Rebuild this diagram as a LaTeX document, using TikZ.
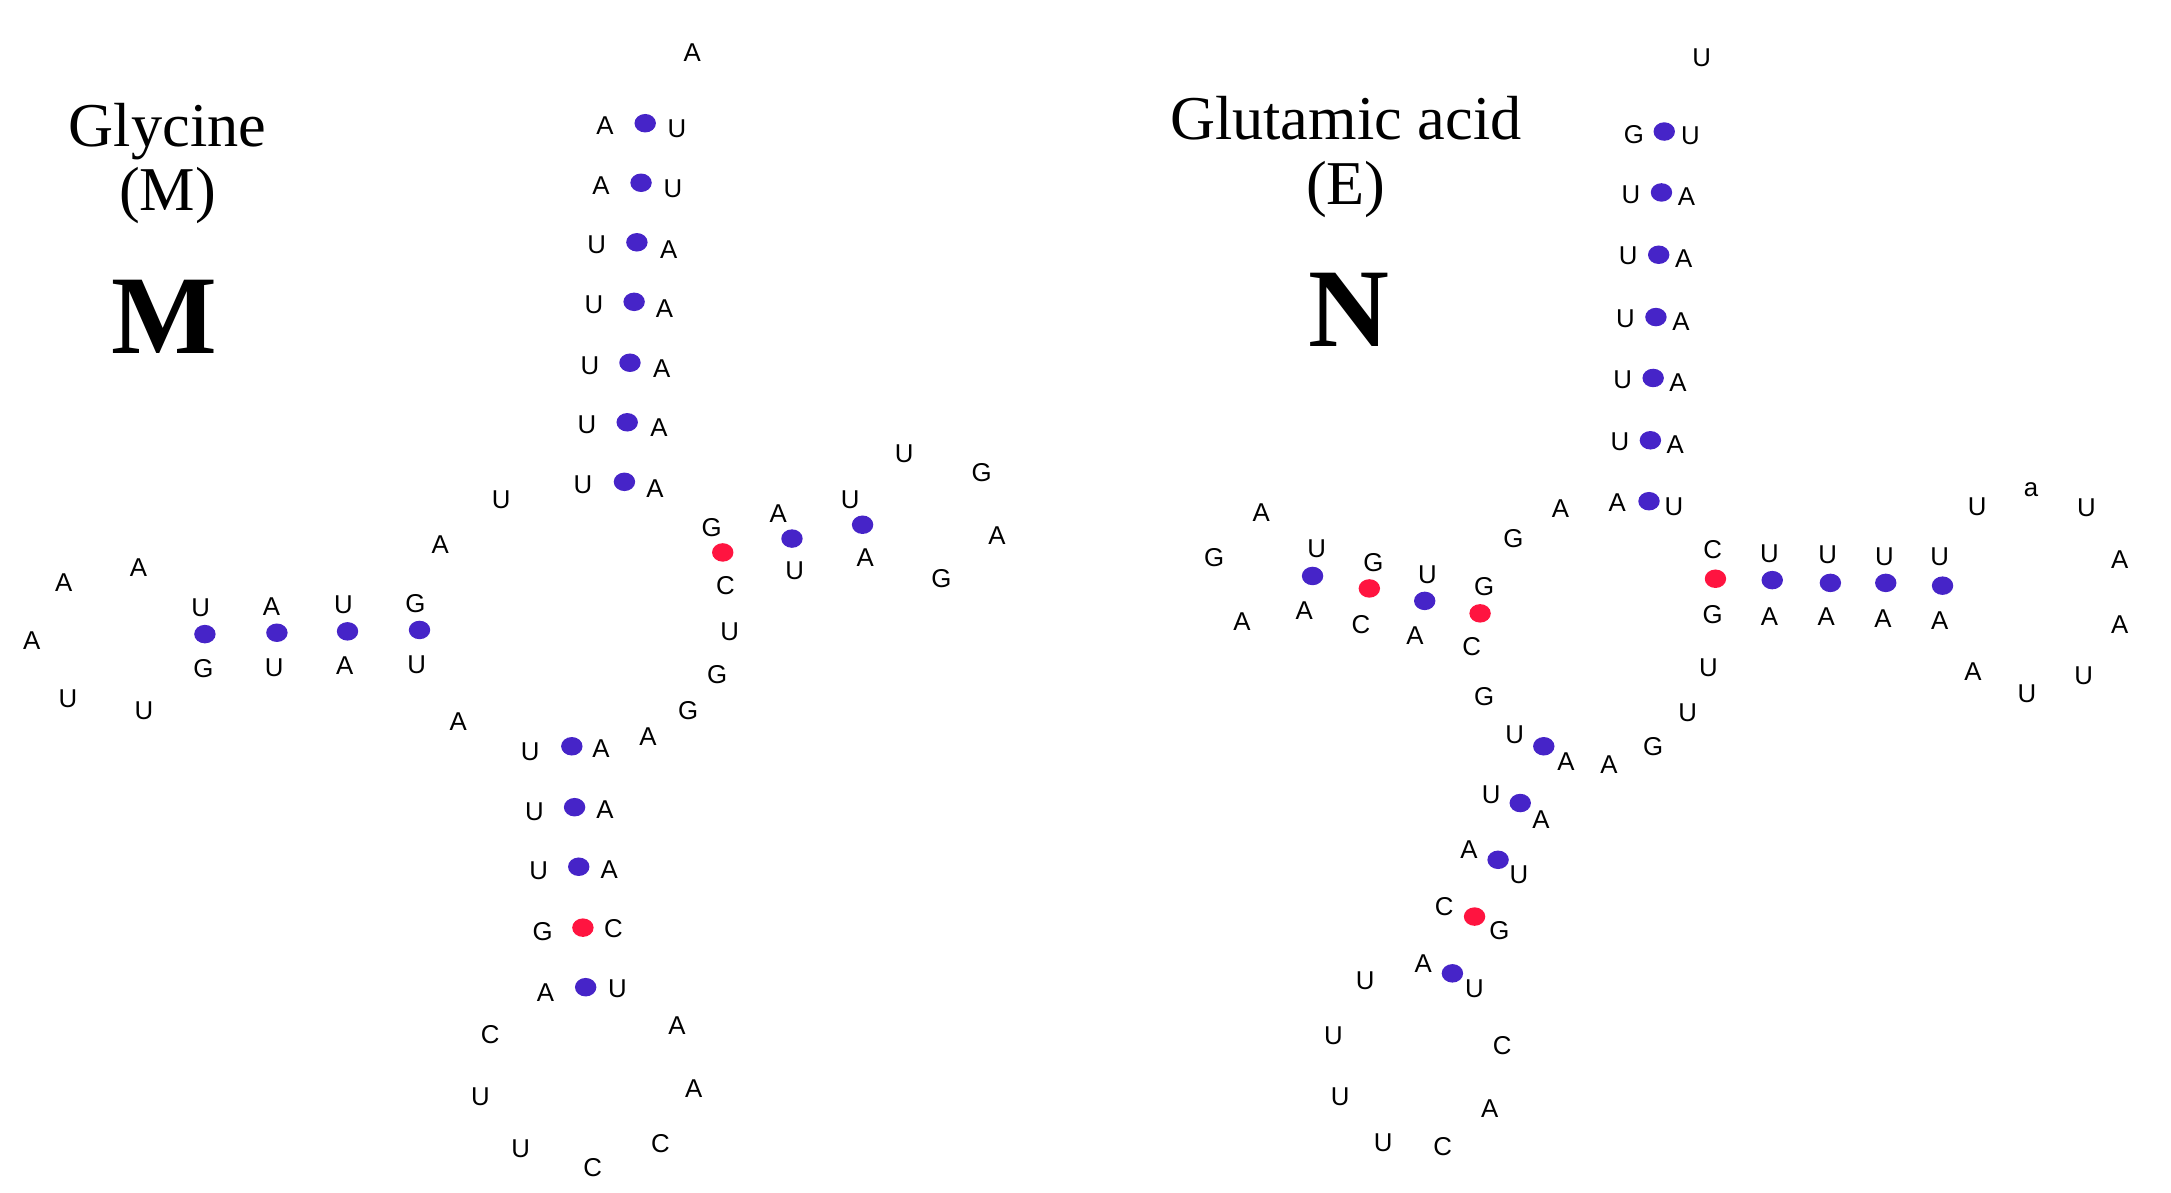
\documentclass[tikz,border=0pt]{standalone}
\usepackage{fontspec}
\setmainfont{Liberation Serif}
\newfontfamily\basefont{Liberation Sans}
\usepackage{tikz}
\usetikzlibrary{shapes.geometric}

\definecolor{pairblue}{RGB}{70,36,200}
\definecolor{pairred}{RGB}{255,20,64}

\begin{document}
\begin{tikzpicture}[
  x=0.01cm, y=-0.01cm,
  nt/.style={inner sep=0pt,font={\basefont\fontsize{5.3}{6}\selectfont}},
  bp/.style={ellipse,fill=pairblue,inner sep=0pt,minimum width=4.4pt,minimum height=3.8pt},
  gc/.style={bp,fill=pairred},
  title/.style={anchor=base,font={\fontsize{12.8}{14}\selectfont}},
  panel/.style={anchor=base,font={\bfseries\fontsize{23}{26}\selectfont}}
]
  \useasboundingbox (0,0) rectangle (1568,861);

  % glycine (M)
  \node[title] (gly) at (121,106) {Glycine};
  \node[title] (glyab) at (121,152) {(M)};
  \node[panel] (lblm) at (119,255) {M};

  \foreach \x/\y/\b [count=\i] in {
    500/38/A,
    437/91/A, 489/93/U, 434/134/A, 486/136/U, 431/177/U, 483/180/A,
    429/220/U, 480/223/A, 426/264/U, 478/266/A, 424/307/U, 476/309/A,
    421/350/U, 473/353/A, 362/361/U, 318/393/A,
    145/439/U, 196/438/A, 248/437/U, 300/436/G,
    147/483/G, 198/482/U, 249/481/A, 301/480/U,
    100/410/A, 46/421/A, 23/463/A, 49/505/U, 104/513/U, 331/521/A,
    514/381/G, 524/423/C, 562/371/A, 574/412/U, 614/361/U, 625/403/A,
    653/328/U, 709/341/G, 720/387/A, 680/418/G,
    527/456/U, 518/487/G, 497/513/G, 468/532/A,
    383/543/U, 434/541/A, 386/586/U, 437/585/A, 389/629/U, 440/628/A,
    392/673/G, 443/671/C, 394/717/A, 446/714/U,
    354/747/C, 347/792/U, 376/830/U, 428/843/C, 477/826/C, 501/786/A, 489/741/A}
    \node[nt] (m\i) at (\x,\y) {\b};

  \foreach \x/\y [count=\i] in {
    466/89, 463/132, 460/175, 458/218, 455/262, 453/305, 451/348,
    148/458, 200/457, 251/456, 303/455, 572/389, 623/379,
    413/539, 415/583, 418/626, 423/713}
    \node[bp] (mbp\i) at (\x,\y) {};
  \node[gc] (mgc1) at (522,399) {};
  \node[gc] (mgc2) at (421,670) {};

  % glutamic acid (E)
  \node[title] (glu) at (972,101) {Glutamic acid};
  \node[title] (gluab) at (972,148) {(E)};
  \node[panel] (lbln) at (974,250) {N};

  \foreach \x/\y/\b [count=\i] in {
    1229/42/U,
    1180/97/G, 1221/98/U, 1178/141/U, 1218/142/A, 1176/185/U, 1216/187/A,
    1174/230/U, 1214/232/A, 1172/274/U, 1212/276/A, 1170/319/U, 1210/321/A,
    1168/363/A, 1209/366/U, 1127/367/A, 1093/389/G,
    911/370/A, 877/403/G, 897/449/A, 951/396/U, 942/441/A, 992/406/G, 983/451/C,
    1031/415/U, 1022/459/A, 1072/424/G, 1063/467/C,
    1237/397/C, 1237/444/G, 1278/400/U, 1278/445/A, 1320/401/U, 1319/445/A,
    1361/402/U, 1360/447/A, 1401/402/U, 1401/448/A,
    1428/366/U, 1467/354/a, 1507/367/U, 1531/404/A, 1531/451/A, 1505/488/U, 1464/501/U, 1425/485/A,
    1234/482/U, 1219/515/U, 1194/539/G, 1162/552/A, 1131/550/A,
    1072/503/G, 1094/531/U, 1077/574/U, 1113/592/A, 1061/614/A, 1097/632/U,
    1043/655/C, 1083/672/G, 1028/696/A, 1065/714/U,
    986/708/U, 963/748/U, 968/792/U, 999/825/U, 1042/828/C, 1076/801/A, 1085/755/C}
    \node[nt] (n\i) at (\x,\y) {\b};

  \foreach \x/\y [count=\i] in {
    1202/95, 1200/139, 1198/184, 1196/229, 1194/273, 1192/318, 1191/362,
    948/416, 1029/434, 1280/419, 1322/421, 1362/421, 1403/423,
    1115/539, 1098/580, 1082/621, 1049/703}
    \node[bp] (nbp\i) at (\x,\y) {};
  \node[gc] (ngc1) at (989,425) {};
  \node[gc] (ngc2) at (1069,443) {};
  \node[gc] (ngc3) at (1239,418) {};
  \node[gc] (ngc4) at (1065,662) {};
\end{tikzpicture}
\end{document}
